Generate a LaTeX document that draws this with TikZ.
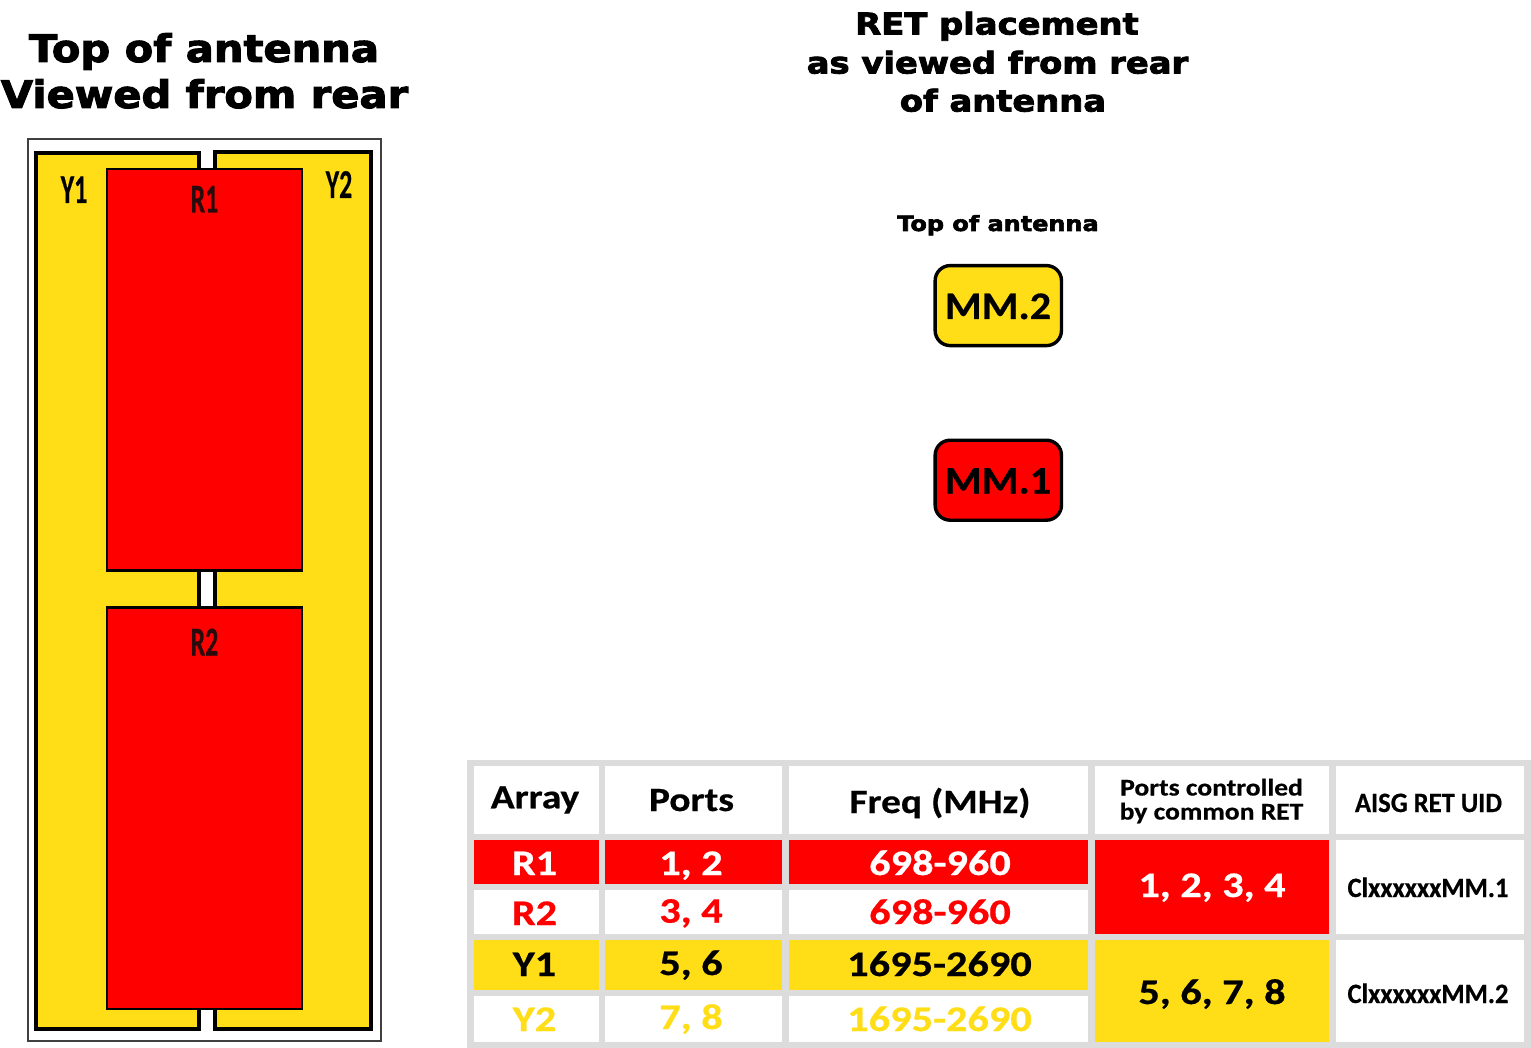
\documentclass[tikz,border=0pt]{standalone}
\usepackage{fontspec}
\setmainfont[BoldFeatures={FakeBold=0.5}]{Carlito}
\newfontfamily\headfont[FakeBold=2.6]{DejaVu Sans Bold}
\definecolor{antred}{HTML}{FF0000}
\definecolor{antyellow}{HTML}{FFDD17}
\definecolor{tabgrey}{HTML}{DCDCDC}
\definecolor{darklabel}{HTML}{2A0A0A}
\tikzset{
  txt/.style={inner sep=0pt,anchor=base,transform shape,align=center},
  cell/.style={inner sep=0pt,outer sep=0pt,draw=none},
  tabtext/.style={txt,font=\fontsize{36}{40}\selectfont\bfseries,xscale=1.175},
  tabhead/.style={txt,font=\fontsize{34}{38}\selectfont\bfseries,xscale=1.16},
  tabsmall/.style={txt,font=\fontsize{28}{30}\selectfont\bfseries,xscale=0.95},
  tabtwo/.style={txt,font=\fontsize{24}{30}\selectfont\bfseries,xscale=1.15},
  arraylabel/.style={txt,font=\fontsize{41}{41}\selectfont\bfseries,xscale=0.63},
  headA/.style={txt,font=\fontsize{38}{40}\selectfont\headfont,xscale=1.095},
  headB/.style={txt,font=\fontsize{30}{32}\selectfont\headfont,xscale=1.125},
  headC/.style={txt,font=\fontsize{21}{24}\selectfont\headfont,xscale=1.14},
  panel/.style={inner sep=0pt,draw=black,fill=antyellow,line width=4pt},
  redpanel/.style={inner sep=0pt,draw=black,fill=antred,line width=2.4pt},
  retbox/.style={inner sep=0pt,draw=black,line width=3.4pt,rounded corners=15pt,minimum width=126.3pt,minimum height=80pt},
  mmtext/.style={txt,font=\fontsize{39}{40}\selectfont\bfseries,xscale=1.08},
}
\newcommand{\cellbox}[7]{%
  \node[cell,fill=#6,minimum width=#4 pt - #2 pt,minimum height=#5 pt - #3 pt] (#1) at ({(#2+#4)/2},{(#3+#5)/2}) {};%
}
\begin{document}
\begin{tikzpicture}[x=1pt,y=-1pt]
\useasboundingbox (0,0) rectangle (1531,1048);
\fill[white] (0,0) rectangle (1531,1048);

% titles
\node[headA] (tl1) at (204,62) {Top of antenna};
\node[headA] (tl2) at (204.5,108) {Viewed from rear};
\node[headB] (tr1) at (997,34.5) {RET placement};
\node[headB] (tr2) at (997.5,73.5) {as viewed from rear};
\node[headB] (tr3) at (1003,111.5) {of antenna};
\node[headC] (tr4) at (998,231) {Top of antenna};

% antenna
\node[inner sep=0pt,draw=black!75,line width=1.3pt,minimum width=353pt,minimum height=902pt] (frame) at (204.5,590) {};
\node[panel,minimum width=162.2pt,minimum height=875.5pt] (Y1) at (117.4,591.2) {};
\node[panel,minimum width=156pt,minimum height=877pt] (Y2) at (292.7,590.5) {};
\node[redpanel,minimum width=195.4pt,minimum height=401.7pt] (R1) at (204.5,369.6) {};
\node[redpanel,minimum width=195.4pt,minimum height=401.5pt] (R2) at (204.5,808.2) {};
\node[arraylabel] (lY1) at (74,203) {Y1};
\node[arraylabel] (lY2) at (339,198) {Y2};
\node[arraylabel,text=darklabel] (lR1) at (204.5,212.5) {R1};
\node[arraylabel,text=darklabel] (lR2) at (204.5,655.5) {R2};

% RET boxes
\node[retbox,fill=antyellow] (mm2) at (998.3,305.6) {};
\node[retbox,fill=antred] (mm1) at (998.3,480.2) {};
\node[mmtext] (tmm2) at (998,319) {MM.2};
\node[mmtext] (tmm1) at (998,493.5) {MM.1};

% table
\fill[tabgrey] (467,760) rectangle (1531,1048);
\cellbox{c11}{473.7}{766}{598.5}{834.3}{white}{}
\cellbox{c12}{605}{766}{781.7}{834.3}{white}{}
\cellbox{c13}{788.8}{766}{1087.7}{834.3}{white}{}
\cellbox{c14}{1094.7}{766}{1329}{834.3}{white}{}
\cellbox{c15}{1335.7}{766}{1524.3}{834.3}{white}{}
\cellbox{c21}{473.7}{840.3}{598.5}{884}{antred}{}
\cellbox{c22}{605}{840.3}{781.7}{884}{antred}{}
\cellbox{c23}{788.8}{840.3}{1087.7}{884}{antred}{}
\cellbox{c31}{473.7}{890}{598.5}{934}{white}{}
\cellbox{c32}{605}{890}{781.7}{934}{white}{}
\cellbox{c33}{788.8}{890}{1087.7}{934}{white}{}
\cellbox{c41}{473.7}{940}{598.5}{990}{antyellow}{}
\cellbox{c42}{605}{940}{781.7}{990}{antyellow}{}
\cellbox{c43}{788.8}{940}{1087.7}{990}{antyellow}{}
\cellbox{c51}{473.7}{996}{598.5}{1042}{white}{}
\cellbox{c52}{605}{996}{781.7}{1042}{white}{}
\cellbox{c53}{788.8}{996}{1087.7}{1042}{white}{}
\cellbox{c24}{1094.7}{840.3}{1329}{934}{antred}{}
\cellbox{c44}{1094.7}{940}{1329}{1042}{antyellow}{}
\cellbox{c25}{1335.7}{840.3}{1524.3}{934}{white}{}
\cellbox{c45}{1335.7}{940}{1524.3}{1042}{white}{}

\node[tabhead] (h1) at (535,808.3) {Array};
\node[tabhead] (h2) at (691.5,811) {Ports};
\node[tabhead] (h3) at (940,813) {Freq (MHz)};
\node[tabtwo] (h4a) at (1211.5,795.5) {Ports controlled};
\node[tabtwo] (h4b) at (1211.5,819.5) {by common RET};
\node[tabsmall] (h5) at (1428.5,812) {AISG RET UID};

\node[tabtext,text=white] (t21) at (534.5,875) {R1};
\node[tabtext,text=white] (t22) at (691,875) {1, 2};
\node[tabtext,text=white] (t23) at (940,875) {698-960};
\node[tabtext,text=antred] (t31) at (534.5,925) {R2};
\node[tabtext,text=antred] (t32) at (691,922.7) {3, 4};
\node[tabtext,text=antred] (t33) at (940,924) {698-960};
\node[tabtext] (t41) at (534.5,976) {Y1};
\node[tabtext] (t42) at (691,975) {5, 6};
\node[tabtext] (t43) at (939.5,976) {1695-2690};
\node[tabtext,text=antyellow] (t51) at (534.5,1031) {Y2};
\node[tabtext,text=antyellow] (t52) at (691,1029) {7, 8};
\node[tabtext,text=antyellow] (t53) at (939.5,1031) {1695-2690};
\node[tabtext,text=white] (t24) at (1212,897) {1, 2, 3, 4};
\node[tabtext] (t44) at (1212,1004) {5, 6, 7, 8};
\node[tabsmall] (t25) at (1428,897) {ClxxxxxxMM.1};
\node[tabsmall] (t45) at (1428,1003) {ClxxxxxxMM.2};
\end{tikzpicture}
\end{document}
